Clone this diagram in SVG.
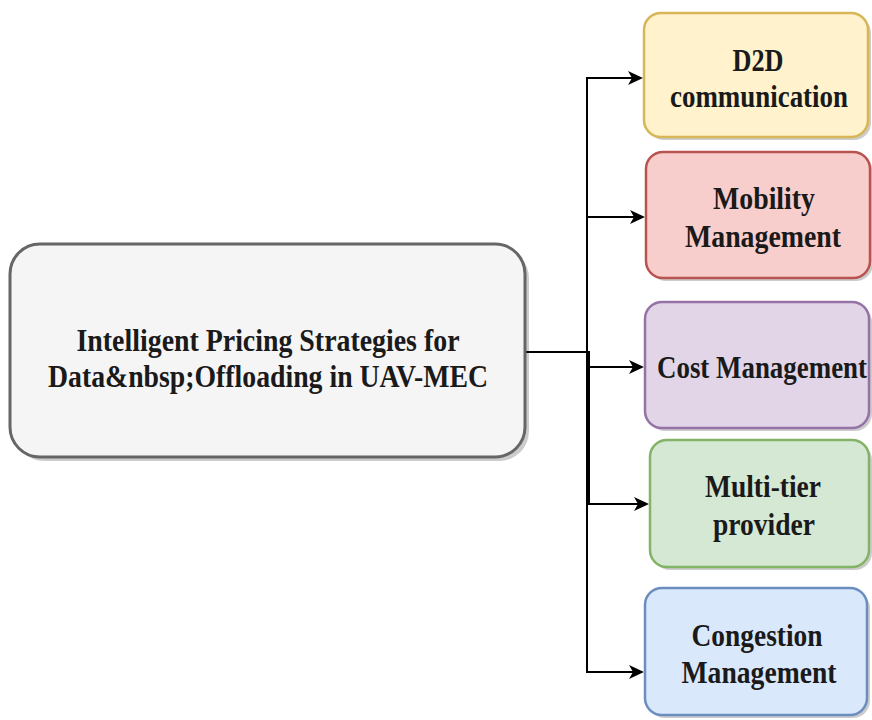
<svg xmlns="http://www.w3.org/2000/svg" width="872" height="720" viewBox="0 0 872 720">
<style>
.lbl{font-weight:700;font-size:32px;fill:#1a1a1a;text-anchor:middle}
.shadow{fill:#000;opacity:0.2}
.edge{fill:none;stroke:#000;stroke-width:2}
</style>
<defs>
<marker id="arr" markerUnits="userSpaceOnUse" markerWidth="16" markerHeight="16" viewBox="0 0 16 16" refX="4" refY="8" orient="auto">
<path d="M0,1 L15,8 L0,15 L4,8 Z" fill="#000"/>
</marker>
</defs>
<rect width="872" height="720" fill="#fff"/>
<g id="edges">
<path class="edge" d="M526,352 H587 V78 H632" marker-end="url(#arr)"/>
<path class="edge" d="M526,352 H587 V217 H634" marker-end="url(#arr)"/>
<path class="edge" d="M526,352 H587 V367 H633" marker-end="url(#arr)"/>
<path class="edge" d="M526,352 H589 V504 H638" marker-end="url(#arr)"/>
<path class="edge" d="M526,352 H587 V672 H633" marker-end="url(#arr)"/>
</g>
<g font-family="Liberation Serif, serif">
<g id="main">
<rect class="shadow" x="14" y="248" width="515" height="213" rx="30"/>
<rect x="10" y="244" width="515" height="213" rx="30" fill="#f5f5f5" stroke="#666" stroke-width="3"/>
<text class="lbl" x="268" y="351" textLength="383" lengthAdjust="spacingAndGlyphs">Intelligent Pricing Strategies for</text>
<text class="lbl" x="268" y="387" textLength="440" lengthAdjust="spacingAndGlyphs">Data&amp;nbsp;Offloading in UAV-MEC</text>
</g>
<g id="d2d">
<rect class="shadow" x="647" y="16" width="224" height="124" rx="17"/>
<rect x="644" y="13" width="224" height="124" rx="17" fill="#fff2cc" stroke="#d6b656" stroke-width="2.5"/>
<text class="lbl" x="758" y="71" textLength="51" lengthAdjust="spacingAndGlyphs">D2D</text>
<text class="lbl" x="759" y="107" textLength="178" lengthAdjust="spacingAndGlyphs">communication</text>
</g>
<g id="mobility">
<rect class="shadow" x="649" y="155" width="224" height="126" rx="17"/>
<rect x="646" y="152" width="224" height="126" rx="17" fill="#f8cecc" stroke="#b85450" stroke-width="2.5"/>
<text class="lbl" x="764" y="209" textLength="102" lengthAdjust="spacingAndGlyphs">Mobility</text>
<text class="lbl" x="763" y="247" textLength="156" lengthAdjust="spacingAndGlyphs">Management</text>
</g>
<g id="cost">
<rect class="shadow" x="648" y="305" width="224" height="126" rx="17"/>
<rect x="645" y="302" width="224" height="126" rx="17" fill="#e1d5e7" stroke="#9673a6" stroke-width="2.5"/>
<text class="lbl" x="762" y="378" textLength="210" lengthAdjust="spacingAndGlyphs">Cost Management</text>
</g>
<g id="multitier">
<rect class="shadow" x="653" y="443" width="219" height="127" rx="17"/>
<rect x="650" y="440" width="219" height="127" rx="17" fill="#d5e8d4" stroke="#82b366" stroke-width="2.5"/>
<text class="lbl" x="763" y="497" textLength="116" lengthAdjust="spacingAndGlyphs">Multi-tier</text>
<text class="lbl" x="764" y="535" textLength="102" lengthAdjust="spacingAndGlyphs">provider</text>
</g>
<g id="congestion">
<rect class="shadow" x="648" y="591" width="222" height="127" rx="17"/>
<rect x="645" y="588" width="222" height="127" rx="17" fill="#dae8fc" stroke="#6c8ebf" stroke-width="2.5"/>
<text class="lbl" x="757" y="646" textLength="131" lengthAdjust="spacingAndGlyphs">Congestion</text>
<text class="lbl" x="759" y="683" textLength="155" lengthAdjust="spacingAndGlyphs">Management</text>
</g>
</g>
</svg>
